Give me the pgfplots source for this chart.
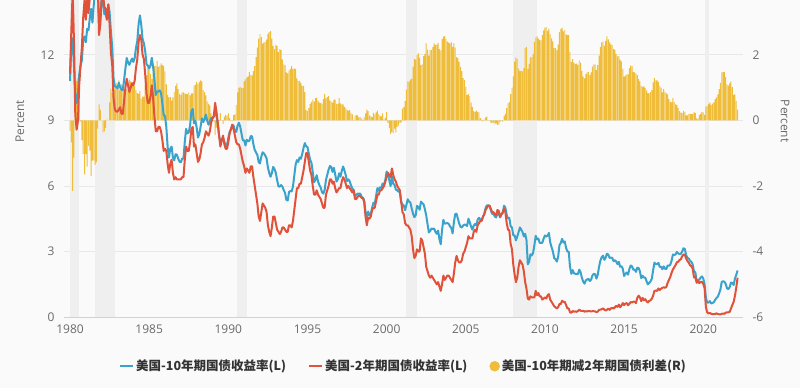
\documentclass[border=0pt]{standalone}
\usepackage{fontspec}
\setmainfont{Open Sans}
\newfontfamily\cjk{Noto Sans CJK SC}
\usepackage{pgfplots}
\usepackage{pgfplotstable}
\pgfplotsset{compat=1.18}
\usetikzlibrary{backgrounds}
\definecolor{tenc}{HTML}{3AA3CC}
\definecolor{twoc}{HTML}{E0533A}
\definecolor{sprc}{HTML}{F0BD3A}
\definecolor{recess}{HTML}{EFEFEF}
\definecolor{gridc}{HTML}{E8E8E8}
\definecolor{axisc}{HTML}{D2D2D2}
\definecolor{tickc}{HTML}{6A6A6A}
\definecolor{bgc}{HTML}{FAFAFA}

\pgfplotstableread{
x t10 t2 sp
1980.000 10.80 11.12 -0.32
1980.083 12.41 13.08 -0.67
1980.167 12.75 14.90 -2.15
1980.250 11.47 12.61 -1.14
1980.333 10.18 9.27 0.91
1980.417 9.78 8.57 1.21
1980.500 10.25 8.96 1.29
1980.583 11.10 10.64 0.46
1980.667 11.51 11.54 -0.03
1980.750 11.75 12.35 -0.60
1980.833 12.68 13.70 -1.02
1980.917 12.84 14.49 -1.65
1981.000 12.57 13.60 -1.03
1981.083 13.19 14.60 -1.41
1981.167 13.12 13.90 -0.78
1981.250 13.68 14.60 -0.92
1981.333 14.10 15.80 -1.70
1981.417 13.47 14.70 -1.23
1981.500 14.28 15.50 -1.22
1981.583 14.94 16.30 -1.36
1981.667 15.32 16.60 -1.28
1981.750 15.15 15.40 -0.25
1981.833 13.39 12.90 0.49
1981.917 13.72 13.40 0.32
1982.000 14.59 14.60 -0.01
1982.083 14.43 14.80 -0.37
1982.167 13.86 14.20 -0.34
1982.250 13.87 14.10 -0.23
1982.333 13.62 13.60 0.02
1982.417 14.30 14.30 0.00
1982.500 13.95 13.40 0.55
1982.583 13.06 12.10 0.96
1982.667 12.34 11.50 0.84
1982.750 10.91 10.00 0.91
1982.833 10.55 9.50 1.05
1982.917 10.54 9.40 1.14
1983.000 10.46 9.40 1.06
1983.083 10.72 9.50 1.22
1983.167 10.51 9.60 0.91
1983.250 10.40 9.30 1.10
1983.333 10.38 9.30 1.08
1983.417 10.85 9.90 0.95
1983.500 11.38 10.50 0.88
1983.583 11.85 10.90 0.95
1983.667 11.65 10.60 1.05
1983.750 11.54 10.30 1.24
1983.833 11.69 10.50 1.19
1983.917 11.83 10.70 1.13
1984.000 11.67 10.60 1.07
1984.083 11.84 10.80 1.04
1984.167 12.32 11.40 0.92
1984.250 12.63 11.80 0.83
1984.333 13.41 12.60 0.81
1984.417 13.80 12.90 0.90
1984.500 13.36 12.70 0.66
1984.583 12.72 12.00 0.72
1984.667 12.52 11.80 0.72
1984.750 12.16 11.10 1.06
1984.833 11.57 10.20 1.37
1984.917 11.50 9.80 1.70
1985.000 11.38 9.80 1.58
1985.083 11.51 10.10 1.41
1985.167 11.86 10.60 1.26
1985.250 11.43 10.00 1.43
1985.333 10.85 9.20 1.65
1985.417 10.16 8.50 1.66
1985.500 10.31 8.50 1.81
1985.583 10.33 8.70 1.63
1985.667 10.37 8.70 1.67
1985.750 10.24 8.50 1.74
1985.833 9.78 8.10 1.68
1985.917 9.26 7.60 1.66
1986.000 9.19 7.70 1.49
1986.083 8.70 7.60 1.10
1986.167 7.78 7.00 0.78
1986.250 7.30 6.60 0.70
1986.333 7.71 7.00 0.71
1986.417 7.80 7.20 0.60
1986.500 7.30 6.60 0.70
1986.583 7.17 6.30 0.87
1986.667 7.45 6.40 1.05
1986.750 7.43 6.30 1.13
1986.833 7.25 6.30 0.95
1986.917 7.11 6.30 0.81
1987.000 7.08 6.30 0.78
1987.083 7.25 6.40 0.85
1987.167 7.25 6.40 0.85
1987.250 8.02 7.20 0.82
1987.333 8.61 7.80 0.81
1987.417 8.40 7.60 0.80
1987.500 8.45 7.60 0.85
1987.583 8.76 8.00 0.76
1987.667 9.42 8.60 0.82
1987.750 9.52 8.70 0.82
1987.833 8.86 7.80 1.06
1987.917 8.99 7.90 1.09
1988.000 8.67 7.50 1.17
1988.083 8.21 7.10 1.11
1988.167 8.37 7.20 1.17
1988.250 8.72 7.50 1.22
1988.333 9.09 7.90 1.19
1988.417 8.92 8.00 0.92
1988.500 9.06 8.20 0.86
1988.583 9.26 8.50 0.76
1988.667 8.98 8.40 0.58
1988.750 8.80 8.30 0.50
1988.833 8.96 8.50 0.46
1988.917 9.11 8.90 0.21
1989.000 9.09 9.10 -0.01
1989.083 9.17 9.20 -0.03
1989.167 9.36 9.80 -0.44
1989.250 9.18 9.40 -0.22
1989.333 8.86 8.90 -0.04
1989.417 8.28 8.30 -0.02
1989.500 8.02 7.80 0.22
1989.583 8.11 8.10 0.01
1989.667 8.19 8.30 -0.11
1989.750 8.01 7.90 0.11
1989.833 7.87 7.70 0.17
1989.917 7.84 7.70 0.14
1990.000 8.21 8.00 0.21
1990.083 8.47 8.40 0.07
1990.167 8.59 8.60 -0.01
1990.250 8.79 8.80 -0.01
1990.333 8.76 8.60 0.16
1990.417 8.48 8.30 0.18
1990.500 8.47 8.00 0.47
1990.583 8.75 7.90 0.85
1990.667 8.89 7.90 0.99
1990.750 8.72 7.70 1.02
1990.833 8.39 7.40 0.99
1990.917 8.08 7.10 0.98
1991.000 8.09 6.90 1.19
1991.083 7.85 6.60 1.25
1991.167 8.11 6.80 1.31
1991.250 8.04 6.70 1.34
1991.333 8.07 6.60 1.47
1991.417 8.28 6.90 1.38
1991.500 8.27 6.90 1.37
1991.583 7.90 6.40 1.50
1991.667 7.65 6.00 1.65
1991.750 7.53 5.60 1.93
1991.833 7.42 5.20 2.22
1991.917 7.09 4.60 2.49
1992.000 7.03 4.40 2.63
1992.083 7.34 4.80 2.54
1992.167 7.54 5.20 2.34
1992.250 7.48 5.10 2.38
1992.333 7.39 5.00 2.39
1992.417 7.26 4.80 2.46
1992.500 6.84 4.20 2.64
1992.583 6.59 3.90 2.69
1992.667 6.42 3.70 2.72
1992.750 6.59 4.10 2.49
1992.833 6.87 4.60 2.27
1992.917 6.77 4.60 2.17
1993.000 6.60 4.30 2.30
1993.083 6.26 4.00 2.26
1993.167 5.98 3.90 2.08
1993.250 5.97 3.80 2.17
1993.333 6.04 3.90 2.14
1993.417 5.96 4.10 1.86
1993.500 5.81 4.10 1.71
1993.583 5.68 4.00 1.68
1993.667 5.36 3.90 1.46
1993.750 5.33 3.90 1.43
1993.833 5.72 4.20 1.52
1993.917 5.77 4.20 1.57
1994.000 5.75 4.10 1.65
1994.083 5.97 4.40 1.57
1994.167 6.48 4.90 1.58
1994.250 6.97 5.40 1.57
1994.333 7.18 5.90 1.28
1994.417 7.10 5.90 1.20
1994.500 7.30 6.10 1.20
1994.583 7.24 6.10 1.14
1994.667 7.46 6.40 1.06
1994.750 7.74 6.70 1.04
1994.833 7.96 7.10 0.86
1994.917 7.81 7.50 0.31
1995.000 7.78 7.50 0.28
1995.083 7.47 7.10 0.37
1995.167 7.20 6.70 0.50
1995.250 7.06 6.50 0.56
1995.333 6.63 6.00 0.63
1995.417 6.17 5.60 0.57
1995.500 6.28 5.60 0.68
1995.583 6.49 5.80 0.69
1995.667 6.20 5.60 0.60
1995.750 6.04 5.50 0.54
1995.833 5.93 5.40 0.53
1995.917 5.71 5.20 0.51
1996.000 5.65 5.00 0.65
1996.083 5.81 5.00 0.81
1996.167 6.27 5.60 0.67
1996.250 6.51 5.80 0.71
1996.333 6.74 6.00 0.74
1996.417 6.91 6.30 0.61
1996.500 6.87 6.30 0.57
1996.583 6.64 6.10 0.54
1996.667 6.83 6.20 0.63
1996.750 6.53 5.90 0.63
1996.833 6.20 5.70 0.50
1996.917 6.30 5.80 0.50
1997.000 6.58 5.90 0.68
1997.083 6.42 5.90 0.52
1997.167 6.69 6.20 0.49
1997.250 6.89 6.40 0.49
1997.333 6.71 6.30 0.41
1997.417 6.49 6.10 0.39
1997.500 6.22 5.90 0.32
1997.583 6.30 6.00 0.30
1997.667 6.21 5.90 0.31
1997.750 6.03 5.80 0.23
1997.833 5.88 5.70 0.18
1997.917 5.81 5.80 0.01
1998.000 5.54 5.40 0.14
1998.083 5.57 5.40 0.17
1998.167 5.65 5.50 0.15
1998.250 5.64 5.55 0.09
1998.333 5.65 5.55 0.10
1998.417 5.50 5.45 0.05
1998.500 5.46 5.45 0.01
1998.583 5.34 5.25 0.09
1998.667 4.81 4.60 0.21
1998.750 4.53 4.20 0.33
1998.833 4.83 4.55 0.28
1998.917 4.65 4.50 0.15
1999.000 4.72 4.60 0.12
1999.083 5.00 4.90 0.10
1999.167 5.23 5.00 0.23
1999.250 5.18 5.00 0.18
1999.333 5.54 5.30 0.24
1999.417 5.90 5.60 0.30
1999.500 5.79 5.60 0.19
1999.583 5.94 5.80 0.14
1999.667 5.92 5.80 0.12
1999.750 6.11 5.90 0.21
1999.833 6.03 6.00 0.03
1999.917 6.28 6.20 0.08
2000.000 6.66 6.40 0.26
2000.083 6.52 6.60 -0.08
2000.167 6.26 6.50 -0.24
2000.250 5.99 6.40 -0.41
2000.333 6.44 6.80 -0.36
2000.417 6.10 6.50 -0.40
2000.500 6.05 6.30 -0.25
2000.583 5.83 6.20 -0.37
2000.667 5.80 6.00 -0.20
2000.750 5.74 5.90 -0.16
2000.833 5.72 5.80 -0.08
2000.917 5.24 5.30 -0.06
2001.000 5.16 4.80 0.36
2001.083 5.10 4.70 0.40
2001.167 4.89 4.30 0.59
2001.250 5.14 4.20 0.94
2001.333 5.39 4.20 1.19
2001.417 5.28 4.10 1.18
2001.500 5.24 4.00 1.24
2001.583 4.97 3.70 1.27
2001.667 4.73 3.10 1.63
2001.750 4.57 2.70 1.87
2001.833 4.65 2.80 1.85
2001.917 5.09 3.10 1.99
2002.000 5.04 3.00 2.04
2002.083 4.91 3.00 1.91
2002.167 5.28 3.60 1.68
2002.250 5.21 3.50 1.71
2002.333 5.16 3.20 1.96
2002.417 4.93 2.90 2.03
2002.500 4.65 2.30 2.35
2002.583 4.26 2.10 2.16
2002.667 3.87 1.90 1.97
2002.750 3.94 1.80 2.14
2002.833 4.05 1.90 2.15
2002.917 4.03 1.80 2.23
2003.000 4.05 1.70 2.35
2003.083 3.90 1.60 2.30
2003.167 3.81 1.50 2.31
2003.250 3.96 1.60 2.36
2003.333 3.57 1.40 2.17
2003.417 3.33 1.20 2.13
2003.500 3.98 1.50 2.48
2003.583 4.45 1.90 2.55
2003.667 4.27 1.70 2.57
2003.750 4.29 1.80 2.49
2003.833 4.30 1.90 2.40
2003.917 4.27 1.90 2.37
2004.000 4.15 1.80 2.35
2004.083 4.08 1.70 2.38
2004.167 3.83 1.60 2.23
2004.250 4.35 2.00 2.35
2004.333 4.72 2.50 2.22
2004.417 4.73 2.80 1.93
2004.500 4.50 2.60 1.90
2004.583 4.28 2.50 1.78
2004.667 4.13 2.50 1.63
2004.750 4.10 2.60 1.50
2004.833 4.19 2.90 1.29
2004.917 4.23 3.00 1.23
2005.000 4.22 3.20 1.02
2005.083 4.17 3.40 0.77
2005.167 4.50 3.70 0.80
2005.250 4.34 3.60 0.74
2005.333 4.14 3.60 0.54
2005.417 4.00 3.60 0.40
2005.500 4.18 3.90 0.28
2005.583 4.26 4.00 0.26
2005.667 4.20 3.90 0.30
2005.750 4.46 4.20 0.26
2005.833 4.54 4.30 0.24
2005.917 4.47 4.40 0.07
2006.000 4.42 4.40 0.02
2006.083 4.57 4.60 -0.03
2006.167 4.72 4.70 0.02
2006.250 4.99 4.90 0.09
2006.333 5.11 5.00 0.11
2006.417 5.11 5.10 0.01
2006.500 5.09 5.10 -0.01
2006.583 4.88 4.95 -0.07
2006.667 4.72 4.80 -0.08
2006.750 4.73 4.80 -0.07
2006.833 4.60 4.70 -0.10
2006.917 4.56 4.65 -0.09
2007.000 4.76 4.90 -0.14
2007.083 4.72 4.85 -0.13
2007.167 4.56 4.60 -0.04
2007.250 4.69 4.70 -0.01
2007.333 4.75 4.80 -0.05
2007.417 5.10 4.96 0.14
2007.500 5.00 4.80 0.20
2007.583 4.67 4.30 0.37
2007.667 4.52 4.00 0.52
2007.750 4.53 3.97 0.56
2007.833 4.15 3.35 0.80
2007.917 4.10 3.10 1.00
2008.000 3.74 2.40 1.34
2008.083 3.74 1.95 1.79
2008.167 3.51 1.60 1.91
2008.250 3.68 1.80 1.88
2008.333 3.88 2.30 1.58
2008.417 4.10 2.60 1.50
2008.500 4.01 2.50 1.51
2008.583 3.89 2.40 1.49
2008.667 3.69 2.10 1.59
2008.750 3.81 1.60 2.21
2008.833 3.53 1.30 2.23
2008.917 2.42 0.85 1.57
2009.000 2.52 0.80 1.72
2009.083 2.87 0.95 1.92
2009.167 2.82 0.90 1.92
2009.250 2.93 0.90 2.03
2009.333 3.29 0.90 2.39
2009.417 3.72 1.20 2.52
2009.500 3.56 1.00 2.56
2009.583 3.59 1.10 2.49
2009.667 3.40 0.95 2.45
2009.750 3.39 0.95 2.44
2009.833 3.40 0.80 2.60
2009.917 3.59 0.85 2.74
2010.000 3.73 0.90 2.83
2010.083 3.69 0.85 2.84
2010.167 3.73 1.00 2.73
2010.250 3.85 1.05 2.80
2010.333 3.42 0.80 2.62
2010.417 3.20 0.70 2.50
2010.500 3.01 0.60 2.41
2010.583 2.70 0.50 2.20
2010.667 2.65 0.45 2.20
2010.750 2.54 0.40 2.14
2010.833 2.76 0.45 2.31
2010.917 3.29 0.60 2.69
2011.000 3.39 0.60 2.79
2011.083 3.58 0.75 2.83
2011.167 3.41 0.70 2.71
2011.250 3.46 0.70 2.76
2011.333 3.17 0.55 2.62
2011.417 3.00 0.40 2.60
2011.500 3.00 0.40 2.60
2011.583 2.30 0.22 2.08
2011.667 1.98 0.20 1.78
2011.750 2.15 0.28 1.87
2011.833 2.01 0.25 1.76
2011.917 1.98 0.26 1.72
2012.000 1.97 0.24 1.73
2012.083 1.97 0.28 1.69
2012.167 2.17 0.34 1.83
2012.250 2.05 0.29 1.76
2012.333 1.80 0.29 1.51
2012.417 1.62 0.29 1.33
2012.500 1.53 0.25 1.28
2012.583 1.68 0.27 1.41
2012.667 1.72 0.26 1.46
2012.750 1.75 0.28 1.47
2012.833 1.65 0.27 1.38
2012.917 1.72 0.26 1.46
2013.000 1.91 0.27 1.64
2013.083 1.98 0.27 1.71
2013.167 1.96 0.26 1.70
2013.250 1.76 0.23 1.53
2013.333 1.93 0.25 1.68
2013.417 2.30 0.33 1.97
2013.500 2.58 0.34 2.24
2013.583 2.74 0.36 2.38
2013.667 2.81 0.40 2.41
2013.750 2.62 0.34 2.28
2013.833 2.72 0.30 2.42
2013.917 2.90 0.34 2.56
2014.000 2.86 0.39 2.47
2014.083 2.71 0.33 2.38
2014.167 2.72 0.40 2.32
2014.250 2.71 0.42 2.29
2014.333 2.56 0.39 2.17
2014.417 2.60 0.45 2.15
2014.500 2.54 0.51 2.03
2014.583 2.42 0.47 1.95
2014.667 2.53 0.57 1.96
2014.750 2.30 0.45 1.85
2014.833 2.33 0.53 1.80
2014.917 2.21 0.64 1.57
2015.000 1.88 0.55 1.33
2015.083 1.98 0.62 1.36
2015.167 2.04 0.64 1.40
2015.250 1.94 0.54 1.40
2015.333 2.20 0.61 1.59
2015.417 2.36 0.69 1.67
2015.500 2.32 0.67 1.65
2015.583 2.17 0.70 1.47
2015.667 2.17 0.71 1.46
2015.750 2.07 0.64 1.43
2015.833 2.26 0.88 1.38
2015.917 2.24 0.98 1.26
2016.000 2.09 0.90 1.19
2016.083 1.78 0.73 1.05
2016.167 1.89 0.88 1.01
2016.250 1.81 0.77 1.04
2016.333 1.81 0.82 0.99
2016.417 1.64 0.73 0.91
2016.500 1.50 0.67 0.83
2016.583 1.56 0.74 0.82
2016.667 1.63 0.77 0.86
2016.750 1.76 0.84 0.92
2016.833 2.14 0.98 1.16
2016.917 2.49 1.20 1.29
2017.000 2.43 1.21 1.22
2017.083 2.42 1.20 1.22
2017.167 2.48 1.31 1.17
2017.250 2.30 1.24 1.06
2017.333 2.30 1.30 1.00
2017.417 2.19 1.34 0.85
2017.500 2.32 1.37 0.95
2017.583 2.21 1.34 0.87
2017.667 2.20 1.38 0.82
2017.750 2.36 1.57 0.79
2017.833 2.35 1.70 0.65
2017.917 2.40 1.84 0.56
2018.000 2.58 2.03 0.55
2018.083 2.86 2.18 0.68
2018.167 2.84 2.28 0.56
2018.250 2.87 2.38 0.49
2018.333 2.98 2.51 0.47
2018.417 2.91 2.53 0.38
2018.500 2.89 2.61 0.28
2018.583 2.89 2.65 0.24
2018.667 3.00 2.78 0.22
2018.750 3.15 2.86 0.29
2018.833 3.12 2.86 0.26
2018.917 2.83 2.68 0.15
2019.000 2.71 2.56 0.15
2019.083 2.68 2.49 0.19
2019.167 2.57 2.37 0.20
2019.250 2.53 2.33 0.20
2019.333 2.40 2.21 0.19
2019.417 2.07 1.81 0.26
2019.500 2.06 1.84 0.22
2019.583 1.63 1.57 0.06
2019.667 1.70 1.65 0.05
2019.750 1.71 1.55 0.16
2019.833 1.81 1.61 0.20
2019.917 1.86 1.61 0.25
2020.000 1.76 1.52 0.24
2020.083 1.50 1.33 0.17
2020.167 0.87 0.45 0.42
2020.250 0.66 0.22 0.44
2020.333 0.67 0.17 0.50
2020.417 0.73 0.19 0.54
2020.500 0.62 0.15 0.47
2020.583 0.65 0.14 0.51
2020.667 0.68 0.13 0.55
2020.750 0.79 0.14 0.65
2020.833 0.87 0.17 0.70
2020.917 0.93 0.14 0.79
2021.000 1.08 0.13 0.95
2021.083 1.26 0.12 1.14
2021.167 1.61 0.15 1.46
2021.250 1.64 0.16 1.48
2021.333 1.62 0.15 1.47
2021.417 1.52 0.20 1.32
2021.500 1.32 0.22 1.10
2021.583 1.28 0.22 1.06
2021.667 1.37 0.24 1.13
2021.750 1.58 0.39 1.19
2021.833 1.56 0.55 1.01
2021.917 1.47 0.69 0.78
2022.000 1.76 0.97 0.79
2022.083 1.93 1.34 0.59
2022.167 2.13 1.80 0.33
}\yields

\pgfplotsset{
  common/.style={
    width=679pt, height=317pt, scale only axis,
    xmin=1979.62, xmax=2022.51,
    axis line style={draw=none},
    major tick length=0pt,
    ticklabel style={font=\fontsize{12}{14}\selectfont, text=tickc},
    /pgf/number format/assume math mode=true,
    /pgf/number format/1000 sep={},
    clip=true,
  }
}

\begin{document}
\begin{tikzpicture}
% background
\begin{axis}[common, name=ax,
  ymin=0, ymax=14.5,
  ytick={0,3,6,9,12},
  ymajorgrids, grid style={draw=gridc, line width=0.8pt},
  xtick={1980,1985,...,2020},
  xticklabel style={yshift=-4pt},
  yticklabel style={xshift=-6pt},
  extra y ticks={0}, extra y tick labels={},
  extra y tick style={grid style={draw=axisc, line width=1pt}},
  ylabel={Percent},
  every axis y label/.style={at={(axis description cs:-0.0648,0.618)}, rotate=90, anchor=center, font=\fontsize{12}{14}\selectfont, text=tickc},
]
\addplot[fill=recess, draw=none] coordinates {(1980.0,14.5) (1980.55,14.5)} \closedcycle;
\addplot[fill=recess, draw=none] coordinates {(1981.55,14.5) (1982.87,14.5)} \closedcycle;
\addplot[fill=recess, draw=none] coordinates {(1990.55,14.5) (1991.2,14.5)} \closedcycle;
\addplot[fill=recess, draw=none] coordinates {(2001.2,14.5) (2001.9,14.5)} \closedcycle;
\addplot[fill=recess, draw=none] coordinates {(2007.95,14.5) (2009.5,14.5)} \closedcycle;
\addplot[fill=recess, draw=none] coordinates {(2020.1,14.5) (2020.35,14.5)} \closedcycle;
\end{axis}
% right axis: spread bars
\begin{axis}[common,
  ymin=-6, ymax=3.6667,
  axis x line=none,
  axis y line*=right,
  ytick={-6,-4,-2,0,2},
  yticklabel style={xshift=6pt},
  ylabel={Percent},
  every axis y label/.style={at={(axis description cs:1.062,0.618)}, rotate=-90, anchor=center, font=\fontsize{12}{14}\selectfont, text=tickc},
]
\addplot[ybar, bar width=0.06, fill=sprc, draw=none] table[x=x, y=sp] {\yields};
\end{axis}
% lines
\begin{axis}[common, hide axis,
  ymin=0, ymax=14.5,
  legend columns=3,
  legend style={at={(0.5,-0.155)}, anchor=center, draw=none, fill=none,
    font=\cjk\bfseries\fontsize{12.5}{14}\selectfont, text=black!80,
    /tikz/every even column/.append style={column sep=20pt}},
  legend cell align=left,
  legend image code/.code={\draw[#1, line width=2pt] (0pt,0pt) -- (13pt,0pt);},
]
\addplot[tenc, line width=2pt, line join=round] table[x=x, y=t10] {\yields};
\addlegendentry{美国-10年期国债收益率(L)}
\addplot[twoc, line width=2pt, line join=round] table[x=x, y=t2] {\yields};
\addlegendentry{美国-2年期国债收益率(L)}
\addlegendimage{legend image code/.code={\fill[sprc] (6.5pt,0pt) circle (5pt);}}
\addlegendentry{美国-10年期减2年期国债利差(R)}
\end{axis}
\begin{scope}[on background layer]
\fill[bgc] ([xshift=-64pt,yshift=-71pt]ax.south west) rectangle ([xshift=57pt]ax.north east);
\end{scope}
\path[use as bounding box] ([xshift=-64pt,yshift=-71pt]ax.south west) rectangle ([xshift=57pt]ax.north east);
\end{tikzpicture}
\end{document}
